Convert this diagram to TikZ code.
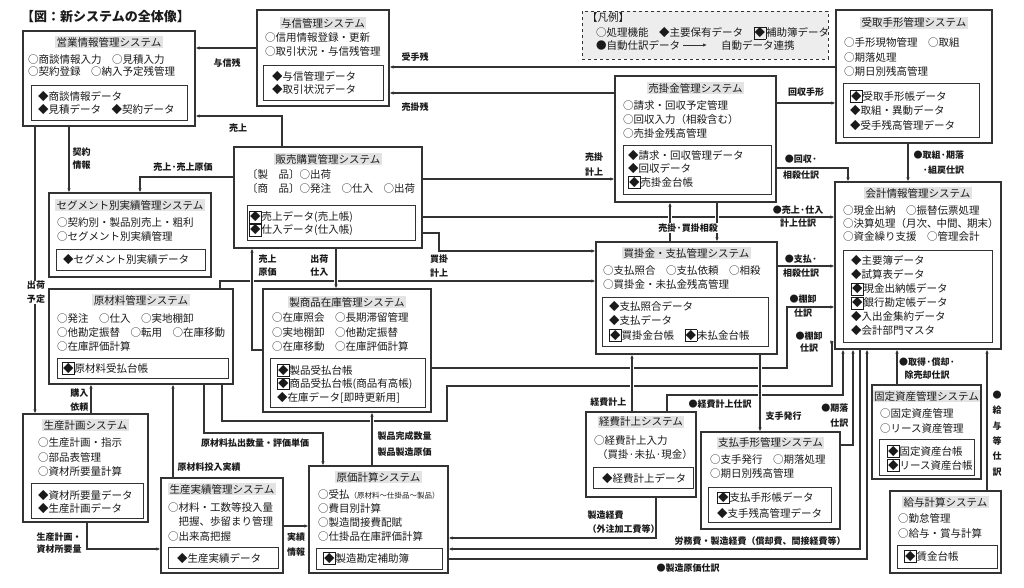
\documentclass[tikz,border=0pt]{standalone}
\usepackage{fontspec}
\setmainfont{Noto Sans CJK JP}
\usepackage{tikz}
\usetikzlibrary{arrows.meta}
\definecolor{lncol}{HTML}{333333}
\definecolor{txtcol}{HTML}{1A1A1A}
\definecolor{ttlgray}{HTML}{E3E3E3}
\definecolor{legfill}{HTML}{EDEDED}
\newcommand{\hojo}{{\setlength{\fboxsep}{0.4pt}\setlength{\fboxrule}{0.6pt}\fbox{◆}}}

\begin{document}
\begin{tikzpicture}[
  x=1pt,y=-1pt,
  sysbox/.style={draw=lncol,line width=1.1pt,fill=white},
  databox/.style={draw=lncol,line width=0.8pt},
  ttl/.style={fill=ttlgray,inner xsep=1.5pt,inner ysep=1pt,text=txtcol,font=\fontsize{10.5}{12}\selectfont},
  body/.style={anchor=west,align=left,inner sep=0pt,text=txtcol,font=\fontsize{10.5}{14}\selectfont},
  lbl/.style={inner sep=0.5pt,align=center,text=txtcol,font=\fontsize{9}{14}\selectfont\bfseries},
  arrow/.style={draw=lncol,line width=1.1pt,-{Latex[length=4pt,width=3.4pt]}},
  gap/.style={preaction={draw=white,line width=4pt,-,shorten <=2pt,shorten >=2pt}}
]
\useasboundingbox (0,0) rectangle (1024,587);

\node[anchor=west,inner sep=0pt,text=txtcol,font=\fontsize{13}{15}\selectfont\bfseries] (zu) at (21,17) {【図：新システムの全体像】};

% legend
\node[draw=lncol,dashed,line width=0.7pt,fill=legfill,minimum width=246pt,minimum height=48pt] (hanrei) at (705,35) {};
\node[body] (hanrei-t) at (587,18) {【凡例】};
\node[body] (hanrei-1) at (596,33) {○処理機能　◆主要保有データ　\hojo 補助簿データ};
\node[body] (hanrei-2) at (596,45) {●自動仕訳データ};
\node[body] (hanrei-3) at (721,45) {自動データ連携};
\draw[arrow,line width=0.8pt] ([xshift=3pt]hanrei-2.east) -- ([xshift=-14pt]hanrei-3.west);

% systems
\node[sysbox,minimum width=172pt,minimum height=95pt] (eigyo) at (109,78.5) {};
\node[ttl] (eigyo-t) at (109,42) {営業情報管理システム};
\node[body,font=\fontsize{10.5}{12}\selectfont] (eigyo-b) at (28,66) {○商談情報入力　○見積入力\\○契約登録　○納入予定残管理};
\draw[databox] (31,85) rectangle (187,120);
\node[body,font=\fontsize{10.5}{13}\selectfont] (eigyo-d) at (38,103.5) {◆商談情報データ\\◆見積データ　◆契約データ};

\node[sysbox,minimum width=132pt,minimum height=96pt] (yoshin) at (323,58) {};
\node[ttl] (yoshin-t) at (323,23) {与信管理システム};
\node[body] (yoshin-b) at (265,45) {○信用情報登録・更新\\○取引状況・与信残管理};
\draw[databox] (263,65) rectangle (383,100);
\node[body,font=\fontsize{10.5}{13}\selectfont] (yoshin-d) at (272,83.5) {◆与信管理データ\\◆取引状況データ};

\node[sysbox,minimum width=161pt,minimum height=126pt] (urikake) at (695.5,139) {};
\node[ttl] (urikake-t) at (695.5,88) {売掛金管理システム};
\node[body] (urikake-b) at (623,119) {○請求・回収予定管理\\○回収入力（相殺含む）\\○売掛金残高管理};
\draw[databox] (623,145) rectangle (771,194);
\node[body,font=\fontsize{10.5}{13.5}\selectfont] (urikake-d) at (628,169.5) {◆請求・回収管理データ\\◆回収データ\\\hojo 売掛金台帳};

\node[sysbox,minimum width=156pt,minimum height=133pt] (uketori) at (914,76.5) {};
\node[ttl] (uketori-t) at (914,23) {受取手形管理システム};
\node[body,font=\fontsize{10.5}{14.5}\selectfont] (uketori-b) at (844,57.5) {○手形現物管理　○取組\\○期落処理\\○期日別残高管理};
\draw[databox] (843,83) rectangle (979,137);
\node[body,font=\fontsize{10.5}{14.5}\selectfont] (uketori-d) at (850,110.5) {\hojo 受取手形帳データ\\◆取組・異動データ\\◆受手残高管理データ};

\node[sysbox,minimum width=166pt,minimum height=167pt] (kaikei) at (918,265.5) {};
\node[ttl] (kaikei-t) at (918,193) {会計情報管理システム};
\node[body,font=\fontsize{10.5}{13}\selectfont] (kaikei-b) at (843,224) {○現金出納　○振替伝票処理\\○決算処理（月次、\kern-1pt中間、\kern-1pt期末）\\○資金繰り支援　○管理会計};
\draw[databox] (843,250) rectangle (992,342);
\node[body] (kaikei-d) at (851,296) {◆主要簿データ\\◆試算表データ\\\hojo 現金出納帳データ\\\hojo 銀行勘定帳データ\\◆入出金集約データ\\◆会計部門マスタ};

\node[sysbox,minimum width=188pt,minimum height=101pt] (hanbai) at (328,197.5) {};
\node[ttl] (hanbai-t) at (328,159) {販売購買管理システム};
\node[body] (hanbai-b) at (247,182) {〔製　品〕○出荷\\〔商　品〕○発注　○仕入　○出荷};
\draw[databox] (247,205) rectangle (415,240);
\node[body,font=\fontsize{10.5}{13}\selectfont] (hanbai-d) at (249,223.5) {\hojo 売上データ(売上帳)\\\hojo 仕入データ(仕入帳)};

\node[sysbox,minimum width=162pt,minimum height=84pt] (segment) at (130,235) {};
\node[ttl] (segment-t) at (130,205) {セグメント別実績管理システム};
\node[body] (segment-b) at (57,230) {○契約別・製品別売上・粗利\\○セグメント別実績管理};
\draw[databox] (56,249) rectangle (205,270);
\node[body] (segment-d) at (63,260) {◆セグメント別実績データ};

\node[sysbox,minimum width=184pt,minimum height=95pt] (genzai) at (141,336.5) {};
\node[ttl] (genzai-t) at (141,300) {原材料管理システム};
\node[body] (genzai-b) at (57,332) {○発注　○仕入　○実地棚卸\\○他勘定振替　○転用　○在庫移動\\○在庫評価計算};
\draw[databox] (57,358) rectangle (228,378);
\node[body] (genzai-d) at (62,368.5) {\hojo 原材料受払台帳};

\node[sysbox,minimum width=168pt,minimum height=123pt] (seihin) at (347,350.5) {};
\node[ttl] (seihin-t) at (347,302) {製商品在庫管理システム};
\node[body,font=\fontsize{10.5}{14.5}\selectfont] (seihin-b) at (272,332.5) {○在庫照会　○長期滞留管理\\○実地棚卸　○他勘定振替\\○在庫移動　○在庫評価計算};
\draw[databox] (270,358) rectangle (425,407);
\node[body,font=\fontsize{10.5}{13.5}\selectfont] (seihin-d) at (277,383.5) {\hojo 製品受払台帳\\\hojo 商品受払台帳(商品有高帳)\\◆在庫データ[即時更新用]};

\node[sysbox,minimum width=125pt,minimum height=108pt] (seisankei) at (85.5,468) {};
\node[ttl] (seisankei-t) at (85.5,425) {生産計画システム};
\node[body,font=\fontsize{10.5}{14.5}\selectfont] (seisankei-b) at (38,457.5) {○生産計画・指示\\○部品表管理\\○資材所要量計算};
\draw[databox] (31,483) rectangle (143,518);
\node[body,font=\fontsize{10.5}{13}\selectfont] (seisankei-d) at (38,501.5) {◆資材所要量データ\\◆生産計画データ};

\node[sysbox,minimum width=122pt,minimum height=95pt] (jisseki) at (222,525.5) {};
\node[ttl] (jisseki-t) at (222,489) {生産実績管理システム};
\node[body,font=\fontsize{10.5}{14.5}\selectfont] (jisseki-b) at (168,521.5) {○材料・工数等投入量\\　把握、歩留まり管理\\○出来高把握};
\draw[databox] (168,547) rectangle (278,568);
\node[body] (jisseki-d) at (177,558) {◆生産実績データ};

\node[sysbox,minimum width=139pt,minimum height=107pt] (genka) at (378.5,519.5) {};
\node[ttl] (genka-t) at (378.5,477) {原価計算システム};
\node[body,font=\fontsize{10.5}{13.7}\selectfont] (genka-b) at (318,515.5) {○受払{\fontsize{7.5}{9}\selectfont（原材料～仕掛品～製品）}\\○費目別計算\\○製造間接費配賦\\○仕掛品在庫評価計算};
\draw[databox] (316,548) rectangle (442,569);
\node[body] (genka-d) at (323,558.5) {\hojo 製造勘定補助簿};

\node[sysbox,minimum width=181pt,minimum height=112pt] (kaikake) at (686.5,298) {};
\node[ttl] (kaikake-t) at (686.5,253) {買掛金・支払管理システム};
\node[body] (kaikake-b) at (603,278) {○支払照合　○支払依頼　○相殺\\○買掛金・未払金残高管理};
\draw[databox] (602,297) rectangle (768,346);
\node[body,font=\fontsize{10.5}{14.5}\selectfont] (kaikake-d) at (609,321.5) {◆支払照合データ\\◆支払データ\\\hojo 買掛金台帳　\hojo 未払金台帳};

\node[sysbox,minimum width=110pt,minimum height=85pt] (keihi) at (641,454.5) {};
\node[ttl] (keihi-t) at (641,422) {経費計上システム};
\node[body] (keihi-b) at (594,448) {○経費計上入力\\\kern3pt（買掛·未払·現金）};
\draw[databox] (593,467) rectangle (693,488);
\node[body] (keihi-d) at (602,478) {◆経費計上データ};

\node[sysbox,minimum width=139pt,minimum height=97pt] (shiharai) at (770.5,480.5) {};
\node[ttl] (shiharai-t) at (770.5,443) {支払手形管理システム};
\node[body] (shiharai-b) at (710,467) {○支手発行　○期落処理\\○期日別残高管理};
\draw[databox] (708,487) rectangle (831,522);
\node[body,font=\fontsize{10.5}{15.5}\selectfont] (shiharai-d) at (717,505) {\hojo 支払手形帳データ\\◆支手残高管理データ};

\node[sysbox,minimum width=109pt,minimum height=94pt] (kotei) at (926.5,432) {};
\node[ttl] (kotei-t) at (926.5,396) {固定資産管理システム};
\node[body,font=\fontsize{10.5}{15}\selectfont] (kotei-b) at (880,420.5) {○固定資産管理\\○リース資産管理};
\draw[databox] (879,439) rectangle (974,475);
\node[body] (kotei-d) at (887,458) {\hojo 固定資産台帳\\\hojo リース資産台帳};

\node[sysbox,minimum width=111pt,minimum height=82pt] (kyuyo) at (945.5,532) {};
\node[ttl] (kyuyo-t) at (945.5,502) {給与計算システム};
\node[body,font=\fontsize{10.5}{15}\selectfont] (kyuyo-b) at (898,525.5) {○勤怠管理\\○給与・賞与計算};
\draw[databox] (897,545) rectangle (997,568);
\node[body] (kyuyo-d) at (904,556) {\hojo 賃金台帳};

% connectors
\draw[arrow] (yoshin.west |- 0,48) -- (eigyo.east |- 0,48);
\draw[arrow] (hanbai.north -| 282,0) |- (eigyo.east |- 0,116);
\draw[arrow] (eigyo.south -| 69,0) -- (segment.north -| 69,0);
\draw[arrow] (eigyo.south -| 35,0) -- (seisankei.north -| 35,0);
\draw[arrow] (hanbai.west |- 0,177) -| (segment.north -| 140,0);
\draw[arrow] (uketori.west |- 0,67) -- (yoshin.east |- 0,67);
\draw[arrow] (urikake.west |- 0,93) -- (yoshin.east |- 0,93);
\draw[arrow] (hanbai.east |- 0,179) -- (urikake.west |- 0,179);
\draw[arrow] (hanbai.east |- 0,217) -- (kaikei.west |- 0,217);
\draw[arrow] (hanbai.east |- 0,233) -| (439,251) -- (kaikake.west |- 0,251);
\draw[arrow] (genzai.north -| 220,0) |- (kaikake.west |- 0,281);
\draw[arrow] (urikake.east |- 0,103) -- (uketori.west |- 0,103);
\draw[arrow] (urikake.east |- 0,168) -| (kaikei.north -| 848,0);
\draw[arrow] (uketori.south -| 908,0) -- (kaikei.north -| 908,0);
\draw[arrow] (kaikake.east |- 0,266) -- (kaikei.west |- 0,266);
\draw[arrow] (seihin.east |- 0,368) -| (787,307) -- (kaikei.west |- 0,307);
\draw[arrow] (genzai.south -| 222,0) |- (447,421) |- (832,386) |- (kaikei.west |- 0,342);
\draw[arrow] (keihi.north -| 667,0) |- (843,395) -- (kaikei.south -| 843,0);
\draw[arrow] (shiharai.east |- 0,445) -| (kaikei.south -| 853,0);
\draw[arrow] (kaikei.south -| 860,0) |- (genka.east |- 0,549);
\draw[arrow] (keihi.south -| 656,0) |- (genka.east |- 0,538);
\draw[arrow] (genka.east |- 0,559) -| (kaikei.south -| 867,0);
\draw[arrow] (kotei.north -| 897,0) -- (kaikei.south -| 897,0);
\draw[arrow] (kyuyo.north -| 987,0) -- (kaikei.south -| 987,0);
\draw[arrow] (genzai.south -| 204,0) |- (323,433) -- (genka.north -| 323,0);
\draw[arrow] (jisseki.north -| 173,0) -- (genzai.south -| 173,0);
\draw[arrow] (seisankei.north -| 91,0) -- (genzai.south -| 91,0);
\draw[arrow] (seisankei.south -| 87,0) |- (jisseki.west |- 0,549);
\draw[arrow] (jisseki.east |- 0,526) -- (genka.west |- 0,526);
% crossing lines
\draw[arrow,gap] (seihin.west |- 0,350) -| (hanbai.south -| 252,0);
\draw[arrow,gap] (hanbai.south -| 336,0) -- (seihin.north -| 336,0);
\draw[arrow,gap] (kaikake.north -| 670,0) -- (urikake.south -| 670,0);
\draw[arrow,gap] (urikake.south -| 717,0) -- (kaikake.north -| 717,0);
\draw[arrow,gap] (keihi.north -| 632,0) -- (kaikake.south -| 632,0);
\draw[arrow,gap] (kaikake.south -| 760,0) -- (shiharai.north -| 760,0);
\draw[arrow,gap] (genka.north -| 372,0) -- (seihin.south -| 372,0);

% labels
\node[lbl] (l-yoshinzan) at (227,63) {与信残};
\node[lbl] (l-uriage) at (238,128) {売上};
\node[lbl,anchor=west,align=left,font=\fontsize{9}{13}\selectfont\bfseries] (l-keiyaku) at (72,158.5) {契約\\情報};
\node[lbl,fill=white] (l-shukka) at (36,292.5) {出荷\\予定};
\node[lbl] (l-uriagegenka) at (183,167) {売上·売上原価};
\node[lbl] (l-ukete) at (415,57) {受手残};
\node[lbl] (l-urikakezan) at (415,107) {売掛残};
\node[lbl,font=\fontsize{9}{15}\selectfont\bfseries] (l-urikakekeijo) at (594,164.5) {売掛\\計上};
\node[lbl,font=\fontsize{9}{13}\selectfont\bfseries] (l-uriageshiwake) at (798,216.5) {●売上·仕入\\計上仕訳};
\node[lbl] (l-kaikakekeijo) at (439,266) {買掛\\計上};
\node[lbl,anchor=west,align=left,font=\fontsize{9}{13}\selectfont\bfseries] (l-uriagegenka2) at (258,265.5) {売上\\原価};
\node[lbl,anchor=east,align=right,font=\fontsize{9}{13}\selectfont\bfseries] (l-shukkashiire) at (329,265.5) {出荷\\仕入};
\node[lbl] (l-kaishu) at (806,92) {回収手形};
\node[lbl,font=\fontsize{9}{16}\selectfont\bfseries] (l-kaishushiwake) at (801,167) {●回収·\\相殺仕訳};
\node[lbl,anchor=west,align=right,font=\fontsize{9}{15}\selectfont\bfseries] (l-torikumi) at (913,162.5) {●取組·期落\\·組戻仕訳};
\node[lbl,fill=white] (l-sousai) at (688,228) {売掛·買掛相殺};
\node[lbl] (l-shiharaishiwake) at (801,266) {●支払·\\相殺仕訳};
\node[lbl] (l-tanaoroshi1) at (803,306) {●棚卸\\仕訳};
\node[lbl,font=\fontsize{9}{12}\selectfont\bfseries] (l-tanaoroshi2) at (809,342) {●棚卸\\仕訳};
\node[lbl,anchor=east] (l-keihikeijo) at (627,402) {経費計上};
\node[lbl,anchor=west] (l-shite) at (765,416) {支手発行};
\node[lbl] (l-keihishiwake) at (720,404) {●経費計上仕訳};
\node[lbl,anchor=east,align=right,font=\fontsize{9}{15}\selectfont\bfseries] (l-kiochi) at (849,415.5) {●期落\\仕訳};
\node[lbl] (l-romuhi) at (760,541) {労務費・製造経費（償却費、間接経費等）};
\node[lbl,anchor=west,align=left] (l-seizokeihi) at (587,522) {製造経費\\（外注加工費等）};
\node[lbl] (l-genkashiwake) at (688,568) {●製造原価仕訳};
\node[lbl,font=\fontsize{9}{13}\selectfont\bfseries] (l-shutoku) at (927,368.5) {●取得·償却·\\除売却仕訳};
\node[lbl,font=\fontsize{9}{15.4}\selectfont\bfseries] (l-kyuyoshiwake) at (997,433.5) {●\\給\\与\\等\\仕\\訳};
\node[lbl] (l-haraidashi) at (255,443) {原材料払出数量・評価単価};
\node[lbl,anchor=west] (l-tonyu) at (177,467) {原材料投入実績};
\node[lbl,anchor=east,align=left] (l-konyu) at (89,400) {購入\\依頼};
\node[lbl,anchor=west,align=left,font=\fontsize{9}{12}\selectfont\bfseries] (l-keikaku) at (36,543) {生産計画・\\資材所要量};
\node[lbl,font=\fontsize{9}{15}\selectfont\bfseries] (l-jissekijoho) at (296,544.5) {実績\\情報};
\node[lbl,anchor=west,align=left,font=\fontsize{9}{16}\selectfont\bfseries] (l-kansei) at (377,444) {製品完成数量\\製品製造原価};
\end{tikzpicture}
\end{document}
